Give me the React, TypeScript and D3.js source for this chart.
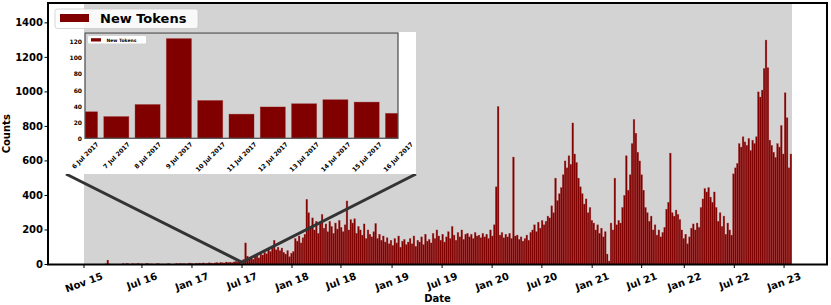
import React, { useEffect, useRef } from 'react';
import * as d3 from 'd3';

// peak daily count of new tokens in each 7-day bin, starting Nov 2015
const weeklyTokens = [
  0, 0, 0, 0, 0, 0, 0, 0, 0, 0,
  0, 4, 25, 3, 0, 0, 0, 0, 0, 0,
  5, 3, 6, 4, 0, 5, 3, 4, 6, 3,
  4, 0, 5, 6, 3, 4, 0, 3, 5, 4,
  0, 3, 0, 4, 5, 0, 0, 3, 5, 4,
  6, 4, 5, 3, 6, 8, 5, 4, 7, 6,
  8, 6, 9, 5, 7, 10, 8, 6, 9, 11,
  8, 12, 10, 9, 14, 11, 13, 10, 15, 18,
  14, 20, 22, 28, 125, 48, 35, 40, 30, 45,
  50, 38, 60, 55, 70, 62, 90, 75, 95, 140,
  85, 100, 80, 95, 70, 60, 80, 45, 65, 75,
  150, 135, 165, 125, 155, 175, 377, 300, 220, 270,
  200, 250, 180, 240, 290, 210, 235, 190, 250, 220,
  180, 240, 205, 255, 215, 190, 230, 368, 200, 260,
  240, 265, 180, 220, 200, 170, 235, 150, 200, 175,
  160, 190, 237, 150, 175, 140, 165, 130, 155, 120,
  140, 110, 150, 125, 165, 100, 135, 145, 115, 130,
  150, 120, 165, 105, 140, 130, 160, 115, 175, 135,
  145, 125, 180, 150, 200, 165, 140, 175, 130, 160,
  190, 150, 220, 170, 140, 185, 160, 200, 145, 175,
  180, 160, 175, 150, 185, 165, 170, 155, 180, 160,
  175, 150, 200, 165, 230, 450, 915, 170, 185, 155,
  175, 160, 180, 150, 622, 165, 170, 145, 160, 135,
  150, 170, 140, 185, 200, 230, 190, 245, 210, 255,
  230, 250, 280, 270, 340, 300, 500, 370, 410, 445,
  520, 600, 560, 630, 580, 820, 640, 590, 500, 450,
  410, 350, 380, 300, 330, 255, 240, 200, 230, 180,
  210, 160, 190, 60, 20, 240, 200, 500, 230, 255,
  240, 330, 400, 630, 430, 520, 700, 840, 760, 650,
  600, 520, 430, 330, 300, 250, 280, 200, 230, 170,
  200, 160, 185, 215, 320, 360, 645, 300, 280, 315,
  290, 260, 200, 150, 175, 120, 160, 210, 235, 200,
  240, 215, 330, 380, 440, 420, 445, 390, 360, 420,
  330, 250, 300, 220, 280, 175, 240, 200, 170, 525,
  560, 585, 700, 680, 740, 710, 690, 730, 660, 720,
  700, 740, 1000, 970, 1010, 1135, 1300, 1140, 720, 690,
  650, 620, 700, 680, 805, 640, 995, 850, 560, 640,
];

const tickLabels = ['Nov 15', 'Jul 16', 'Jan 17', 'Jul 17', 'Jan 18', 'Jul 18', 'Jan 19', 'Jul 19',
  'Jan 20', 'Jul 20', 'Jan 21', 'Jul 21', 'Jan 22', 'Jul 22', 'Jan 23'];
// day offset (from first bar) of each tick label
const tickDays = [0, 212, 395, 578, 761, 940, 1127, 1310, 1493, 1675, 1859, 2040, 2196, 2379, 2561];
const yTicks = [0, 200, 400, 600, 800, 1000, 1200, 1400];

// where the zoom lines meet (Jul 2017)
const zoomDay = 578;
const zoomCount = 13;

const insetDays = ['6 Jul 2017', '7 Jul 2017', '8 Jul 2017', '9 Jul 2017', '10 Jul 2017', '11 Jul 2017',
  '12 Jul 2017', '13 Jul 2017', '14 Jul 2017', '15 Jul 2017', '16 Jul 2017'];
const insetTokens = [33, 27, 42, 124, 47, 30, 39, 43, 48, 45, 31];
const insetYTicks = [0, 20, 40, 60, 80, 100, 120];

const RED = '#800000';
const GRAY = '#d3d3d3';
const FONT = '"DejaVu Sans", sans-serif';

export default function App() {
  const ref = useRef<SVGSVGElement>(null);

  useEffect(() => {
    const svg = d3.select(ref.current);
    svg.selectAll('*').remove();

    const left = 48, right = 827, top = 3, bottom = 264.5;
    const nDays = weeklyTokens.length * 7;

    const x = d3.scaleLinear().domain([0, nDays]).range([84, 792]);
    const y = d3.scaleLinear().domain([0, 1515]).range([bottom, top]);

    svg.append('rect')
      .attr('x', left).attr('y', top)
      .attr('width', right - left).attr('height', bottom - top)
      .attr('fill', 'white');
    svg.append('rect')
      .attr('x', x(0)).attr('y', top)
      .attr('width', x(nDays) - x(0)).attr('height', bottom - top)
      .attr('fill', GRAY);

    const barW = (x(7) - x(0)) * 0.85;
    svg.append('g')
      .selectAll('rect')
      .data(weeklyTokens)
      .enter()
      .append('rect')
      .attr('x', (d, i) => x(i * 7))
      .attr('y', d => y(d))
      .attr('width', barW)
      .attr('height', d => bottom - y(d))
      .attr('fill', RED)
      .attr('stroke', 'rgba(150,20,20,0.45)')
      .attr('stroke-width', 0.6);

    // axes ticks + labels
    const ax = svg.append('g');
    yTicks.forEach(t => {
      ax.append('line')
        .attr('x1', left - 3.5).attr('x2', left)
        .attr('y1', y(t)).attr('y2', y(t))
        .attr('stroke', 'black').attr('stroke-width', 1);
      ax.append('text')
        .attr('x', left - 5).attr('y', y(t))
        .attr('text-anchor', 'end').attr('dominant-baseline', 'central')
        .attr('font-family', FONT).attr('font-weight', 'bold').attr('font-size', 10)
        .text(t);
    });
    tickDays.forEach((d, i) => {
      const tx = x(d);
      ax.append('line')
        .attr('x1', tx).attr('x2', tx)
        .attr('y1', bottom).attr('y2', bottom + 3.5)
        .attr('stroke', 'black').attr('stroke-width', 1);
      const t = ax.append('text')
        .attr('text-anchor', 'middle').attr('dominant-baseline', 'central')
        .attr('font-family', FONT).attr('font-weight', 'bold').attr('font-size', 10)
        .text(tickLabels[i]);
      const w = (t.node() as SVGTextElement).getComputedTextLength();
      const a = 20 * Math.PI / 180;
      const cy = 271 + (w * Math.sin(a) + 10 * Math.cos(a)) / 2;
      t.attr('transform', `translate(${tx},${cy}) rotate(-20)`);
    });

    svg.append('text')
      .attr('x', (left + right) / 2).attr('y', 302)
      .attr('text-anchor', 'middle')
      .attr('font-family', FONT).attr('font-weight', 'bold').attr('font-size', 10)
      .text('Date');
    svg.append('text')
      .attr('transform', `translate(10,${(top + bottom) / 2}) rotate(-90)`)
      .attr('text-anchor', 'middle')
      .attr('font-family', FONT).attr('font-weight', 'bold').attr('font-size', 10)
      .text('Counts');

    // frame
    svg.append('rect')
      .attr('x', left).attr('y', top)
      .attr('width', right - left).attr('height', bottom - top)
      .attr('fill', 'none').attr('stroke', 'black').attr('stroke-width', 2);

    // inset box
    const box = { x0: 66, x1: 416, y0: 32, y1: 174 };
    const px = x(zoomDay), py = y(zoomCount);
    svg.append('path')
      .attr('d', `M${box.x0},${box.y1}L${px},${py}L${box.x1},${box.y1}`)
      .attr('fill', 'none').attr('stroke', '#333').attr('stroke-width', 3);

    svg.append('rect')
      .attr('x', box.x0).attr('y', box.y0)
      .attr('width', box.x1 - box.x0).attr('height', box.y1 - box.y0)
      .attr('fill', 'white');

    const il = 85, ir = 398, it = 33, ib = 138.3;
    const ix = d3.scaleLinear().domain([0, insetTokens.length - 1]).range([il, ir]);
    const iy = d3.scaleLinear().domain([0, 131]).range([ib, it]);
    const step = ix(1) - ix(0);

    svg.append('defs').append('clipPath').attr('id', 'insetClip')
      .append('rect').attr('x', il).attr('y', it).attr('width', ir - il).attr('height', ib - it);

    svg.append('rect')
      .attr('x', il).attr('y', it).attr('width', ir - il).attr('height', ib - it)
      .attr('fill', GRAY);
    svg.append('g')
      .attr('clip-path', 'url(#insetClip)')
      .selectAll('rect')
      .data(insetTokens)
      .enter()
      .append('rect')
      .attr('x', (d, i) => ix(i) - step * 0.4)
      .attr('y', d => iy(d))
      .attr('width', step * 0.8)
      .attr('height', d => ib - iy(d))
      .attr('fill', RED)
      .attr('stroke', 'rgba(150,20,20,0.4)')
      .attr('stroke-width', 0.8);
    svg.append('rect')
      .attr('x', il).attr('y', it).attr('width', ir - il).attr('height', ib - it)
      .attr('fill', 'none').attr('stroke', '#555').attr('stroke-width', 1.3);

    insetYTicks.forEach(t => {
      svg.append('text')
        .attr('x', il - 3).attr('y', iy(t))
        .attr('text-anchor', 'end').attr('dominant-baseline', 'central')
        .attr('font-family', FONT).attr('font-weight', 'bold').attr('font-size', 6)
        .text(t);
    });
    insetDays.forEach((lab, i) => {
      const t = svg.append('text')
        .attr('text-anchor', 'middle').attr('dominant-baseline', 'central')
        .attr('font-family', FONT).attr('font-weight', 'bold').attr('font-size', 6.2)
        .text(lab);
      const w = (t.node() as SVGTextElement).getComputedTextLength();
      const cy = ib + 2.5 + (w + 6) * Math.SQRT1_2 / 2;
      t.attr('transform', `translate(${ix(i)},${cy}) rotate(-45)`);
    });

    // inset legend
    svg.append('rect')
      .attr('x', 88).attr('y', 36).attr('width', 58).attr('height', 7.5)
      .attr('fill', 'white').attr('rx', 1);
    svg.append('rect')
      .attr('x', 91).attr('y', 38.2).attr('width', 10).attr('height', 3.3)
      .attr('fill', RED);
    svg.append('text')
      .attr('x', 106.5).attr('y', 40)
      .attr('dominant-baseline', 'central')
      .attr('font-family', FONT).attr('font-weight', 'bold').attr('font-size', 4.5)
      .text('New Tokens');

    // main legend
    svg.append('rect')
      .attr('x', 55).attr('y', 9).attr('width', 143).attr('height', 19.5)
      .attr('rx', 2.5).attr('fill', 'white').attr('fill-opacity', 0.85)
      .attr('stroke', '#ccc').attr('stroke-width', 0.8);
    svg.append('rect')
      .attr('x', 60).attr('y', 14).attr('width', 29).attr('height', 8)
      .attr('fill', RED);
    svg.append('text')
      .attr('x', 100).attr('y', 18.5)
      .attr('dominant-baseline', 'central')
      .attr('font-family', FONT).attr('font-weight', 'bold').attr('font-size', 13)
      .text('New Tokens');
  }, []);

  return (
    <svg ref={ref} width={831} height={305}
      style={{ position: 'absolute', left: 0, top: 0, background: 'white' }} />
  );
}
